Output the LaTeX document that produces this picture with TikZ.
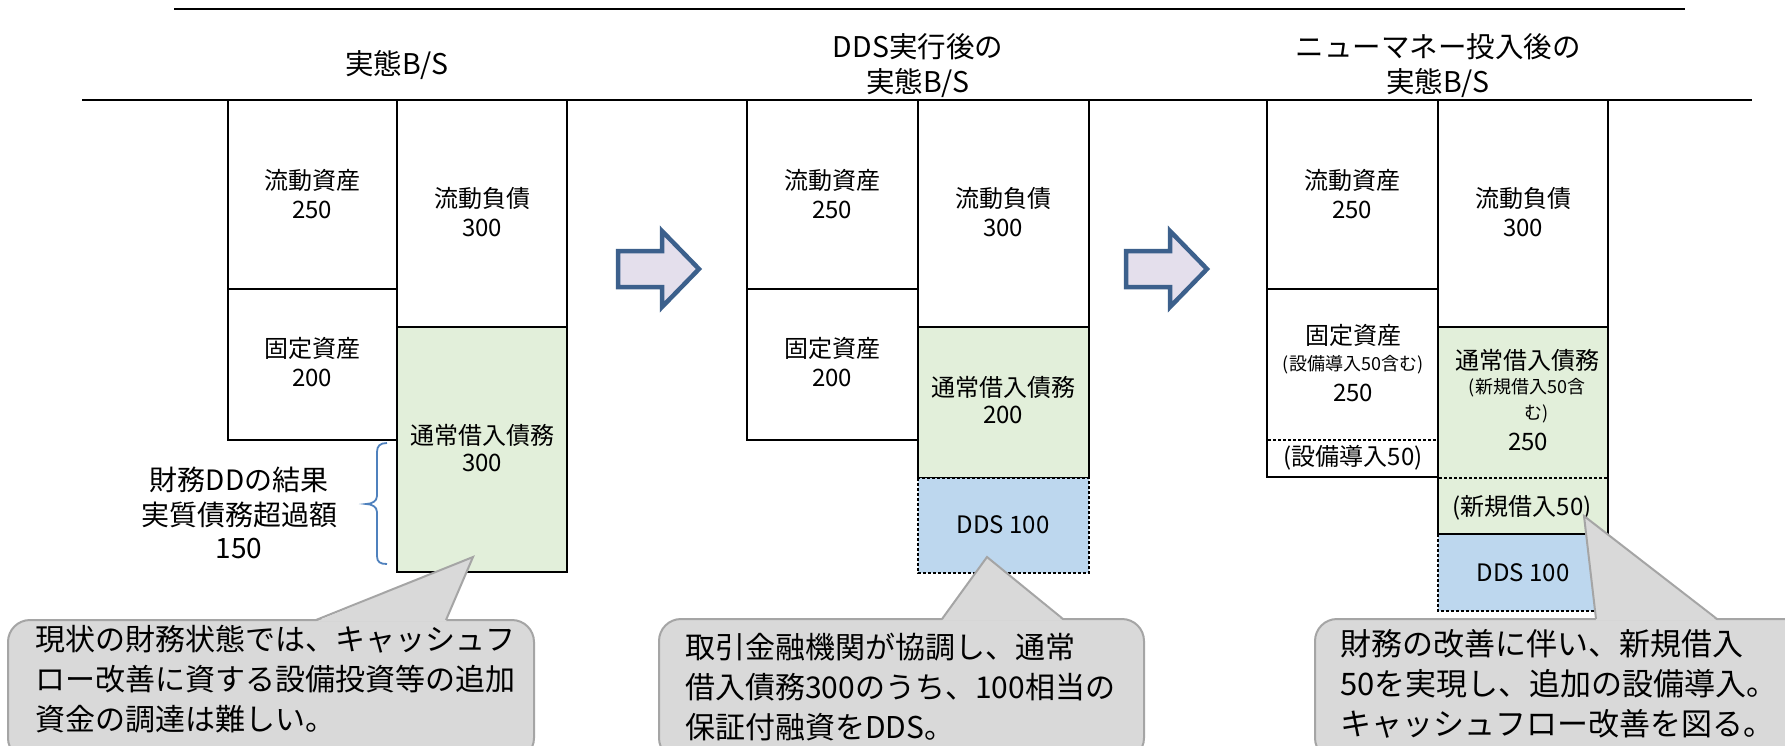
\documentclass[tikz,border=0pt]{standalone}
\usepackage{fontspec}
\setmainfont{Noto Sans CJK JP}
\definecolor{greenfill}{RGB}{226,239,218}
\definecolor{ddsblue}{RGB}{189,215,238}
\definecolor{calloutfill}{RGB}{217,217,217}
\definecolor{calloutline}{RGB}{165,165,165}
\definecolor{arrowfill}{RGB}{228,223,236}
\definecolor{arrowline}{RGB}{60,96,140}
\definecolor{braceblue}{RGB}{79,129,189}
\tikzset{
 bx/.style={draw=black, line width=2.6pt},
 lbl/.style={font=\fontsize{24}{30}\selectfont, inner sep=0pt},
 sml/.style={font=\fontsize{18}{22}\selectfont, inner sep=0pt},
 ttl/.style={font=\fontsize{28.5}{36}\selectfont, inner sep=0pt},
 bigtxt/.style={font=\fontsize{28}{36}\selectfont, inner sep=0pt},
 calloutshape/.style={fill=calloutfill, draw=calloutline, line width=2pt},
 ctext/.style={font=\fontsize{30}{40}\selectfont, inner sep=0pt, align=left, anchor=west},
 ddsbox/.style={fill=ddsblue, draw=black, line width=2pt, dash pattern=on 3pt off 2pt},
 dotsep/.style={draw=black, line width=2pt, dash pattern=on 3pt off 2pt},
 blockarrow/.style={fill=arrowfill, draw=arrowline, line width=4.5pt, line join=miter},
 bracest/.style={draw=braceblue, line width=1.8pt},
 rule/.style={draw=black, line width=2.2pt},
}
\begin{document}
\begin{tikzpicture}[x=1pt,y=-1pt]
\useasboundingbox (0,0) rectangle (1785,745);
\fill[white] (0,0) rectangle (1785,745);

% header rules
\draw[rule] (174,9) -- (1685,9);
\draw[rule] (82,100) -- (1752,100);

% titles
\node[ttl] (t1) at (397,65) {実態B/S};
\node[ttl] (t2a) at (918,47) {DDS実行後の};
\node[ttl] (t2b) at (918,83) {実態B/S};
\node[ttl] (t3a) at (1438,47) {ニューマネー投入後の};
\node[ttl] (t3b) at (1438,83) {実態B/S};

% ---------- panel 1 ----------
\fill[greenfill] (397,327) rectangle (567,572);
\draw[bx] (228,100) rectangle (397,289);
\draw[bx] (228,289) rectangle (397,440);
\draw[bx] (397,100) rectangle (567,327);
\draw[bx] (397,327) rectangle (567,572);
\node[lbl] (p1a) at (312,180) {流動資産};
\node[lbl] (p1av) at (312,210) {250};
\node[lbl] (p1b) at (482,198) {流動負債};
\node[lbl] (p1bv) at (482,228) {300};
\node[lbl] (p1c) at (312,348) {固定資産};
\node[lbl] (p1cv) at (312,378) {200};
\node[lbl] (p1d) at (482,435) {通常借入債務};
\node[lbl] (p1dv) at (482,463) {300};

% brace
\draw[bracest] (387,443) .. controls (380,443) and (377,446) .. (377,452) -- (377,496)
  .. controls (377,501) and (372,504) .. (366,504)
  .. controls (372,504) and (377,507) .. (377,512) -- (377,556)
  .. controls (377,562) and (380,564) .. (387,564);
\node[bigtxt] (br1) at (239,480) {財務DDの結果};
\node[bigtxt] (br2) at (239,515) {実質債務超過額};
\node[bigtxt] (br3) at (239,549) {150};

% arrow 1
\draw[blockarrow] (618,251) -- (662,251) -- (662,231) -- (699,269) -- (662,307) -- (662,287) -- (618,287) -- cycle;

% ---------- panel 2 ----------
\fill[greenfill] (918,327) rectangle (1089,478);
\draw[bx] (747,100) rectangle (918,289);
\draw[bx] (747,289) rectangle (918,440);
\draw[bx] (918,100) rectangle (1089,327);
\draw[bx] (918,327) rectangle (1089,478);
\draw[ddsbox] (918,478) rectangle (1089,573);
\node[lbl] (p2a) at (832,180) {流動資産};
\node[lbl] (p2av) at (832,210) {250};
\node[lbl] (p2b) at (1003,198) {流動負債};
\node[lbl] (p2bv) at (1003,228) {300};
\node[lbl] (p2c) at (832,348) {固定資産};
\node[lbl] (p2cv) at (832,378) {200};
\node[lbl] (p2d) at (1003,387) {通常借入債務};
\node[lbl] (p2dv) at (1003,415) {200};
\node[lbl] (p2e) at (1003,525) {DDS 100};

% arrow 2
\draw[blockarrow] (1126,251) -- (1170,251) -- (1170,231) -- (1207,269) -- (1170,307) -- (1170,287) -- (1126,287) -- cycle;

% ---------- panel 3 ----------
\fill[greenfill] (1438,327) rectangle (1608,534);
\draw[ddsbox] (1438,534) rectangle (1608,611);
\draw[bx] (1267,100) rectangle (1438,289);
\draw[bx] (1267,289) rectangle (1438,477);
\draw[dotsep] (1268,440) -- (1437,440);
\draw[bx] (1438,100) rectangle (1608,327);
\draw[bx] (1438,327) rectangle (1608,534);
\draw[dotsep] (1439,478) -- (1607,478);
\node[lbl] (p3a) at (1352,180) {流動資産};
\node[lbl] (p3av) at (1352,210) {250};
\node[lbl] (p3b) at (1523,198) {流動負債};
\node[lbl] (p3bv) at (1523,228) {300};
\node[lbl] (p3c) at (1353,335) {固定資産};
\node[sml] (p3cs) at (1353,365) {(設備導入50含む)};
\node[lbl] (p3cv) at (1353,393) {250};
\node[lbl] (p3cx) at (1353,458) {(設備導入50)};
\node[lbl] (p3d) at (1527,360) {通常借入債務};
\node[sml] (p3ds) at (1527,388) {(新規借入50含};
\node[sml] (p3ds2) at (1537,414) {む)};
\node[lbl] (p3dv) at (1528,442) {250};
\node[lbl] (p3dx) at (1522,508) {(新規借入50)};
\node[lbl] (p3e) at (1523,573) {DDS 100};

% ---------- callouts ----------
% callout 1
\draw[calloutshape, rounded corners=22pt] (8,620) rectangle (534,760);
\fill[calloutfill] (316,621.5) -- (473,557) -- (446,621.5) -- cycle;
\draw[calloutline, line width=2pt] (316,620) -- (473,557) -- (446,620);
\node[ctext] (c1) at (35,679) {現状の財務状態では、キャッシュフ\\ロー改善に資する設備投資等の追加\\資金の調達は難しい。};

% callout 2
\draw[calloutshape, rounded corners=22pt] (659,619) rectangle (1144,760);
\fill[calloutfill] (942,620.5) -- (987,557) -- (1063,620.5) -- cycle;
\draw[calloutline, line width=2pt] (942,619) -- (987,557) -- (1063,619);
\node[ctext] (c2) at (685,687) {取引金融機関が協調し、通常\\借入債務300のうち、100相当の\\保証付融資をDDS。};

% callout 3
\draw[calloutshape, rounded corners=22pt] (1315,619) rectangle (1820,760);
\fill[calloutfill] (1596,620.5) -- (1584,516) -- (1717,620.5) -- cycle;
\draw[calloutline, line width=2pt] (1596,619) -- (1584,516) -- (1717,619);
\node[ctext, font=\fontsize{31}{40}\selectfont] (c3) at (1340,684) {財務の改善に伴い、新規借入\\50を実現し、追加の設備導入。\\キャッシュフロー改善を図る。};
\end{tikzpicture}
\end{document}
